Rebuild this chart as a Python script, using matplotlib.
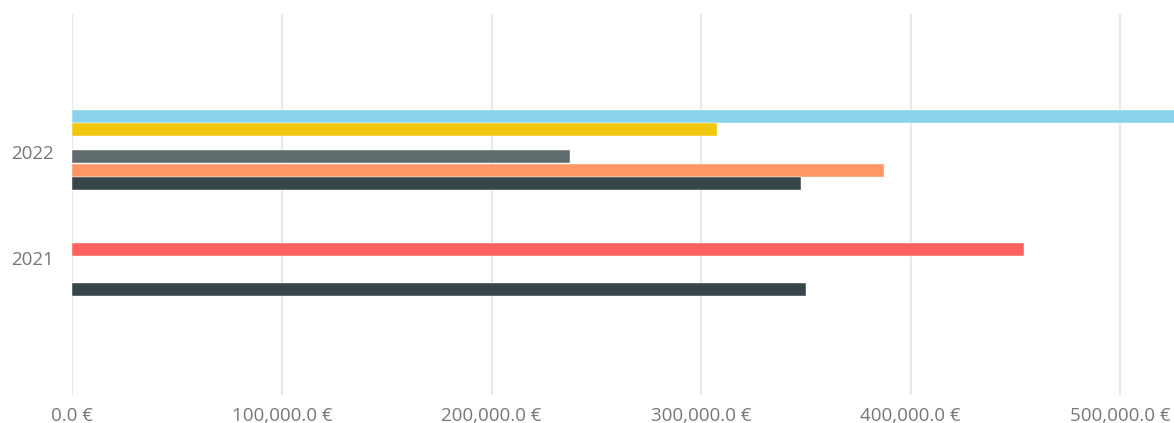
import numpy as np
import matplotlib
matplotlib.use("Agg")
import matplotlib.pyplot as plt
import matplotlib.transforms as mtransforms

plt.rcParams['font.family'] = ['Open Sans', 'DejaVu Sans']

years = ["2022", "2021"]
series_names = ["Series A", "Series B", "Series C", "Series D", "Series E", "Series F"]
series_colors = ["#8AD4EB", "#F2C80F", "#FD625E", "#5F6B6D", "#FE9666", "#374649"]
series_a = [560000, np.nan]
series_b = [307600, np.nan]
series_c = [np.nan, 454100]
series_d = [237600, np.nan]
series_e = [387400, np.nan]
series_f = [347500, 349900]
all_series = [series_a, series_b, series_c, series_d, series_e, series_f]
xticks = [0, 100000, 200000, 300000, 400000, 500000]
xtick_labels = ["0.0 €", "100,000.0 €", "200,000.0 €", "300,000.0 €", "400,000.0 €", "500,000.0 €"]

W, H = 1174, 423
fig = plt.figure(figsize=(W / 100, H / 100), dpi=100)
top_px, bot_px, left_px = 14, 395, 72.3
ax = fig.add_axes([left_px / W, (H - bot_px) / H, (W - left_px) / W, (bot_px - top_px) / H])

ypos = np.array([1.0, 0.0])
n = len(all_series)
w = 0.1264
for i, (vals, col) in enumerate(zip(all_series, series_colors)):
    offs = (i - (n - 1) / 2) * w
    ax.barh(ypos - offs, vals, height=w * 0.98, color=col, zorder=3,
            edgecolor='white', linewidth=0.3)

ax.set_xlim(0, 525600)
ax.set_ylim(-1.311, 2.283)
ax.set_xticks(xticks)
ax.set_xticklabels(xtick_labels)
ax.set_yticks(ypos)
ax.set_yticklabels(years)
ax.grid(axis='x', color='#e8e8e8', linewidth=1.6, zorder=0)
ax.grid(axis='y', visible=False)
for s in ax.spines.values():
    s.set_visible(False)
ax.tick_params(axis='both', length=0, colors='#777777', labelsize=13.5)
ax.tick_params(axis='x', pad=8.5)
ax.tick_params(axis='y', pad=13.5)

shift = mtransforms.ScaledTranslation(0, -2 / 100, fig.dpi_scale_trans)
for lbl in ax.get_yticklabels():
    lbl.set_transform(lbl.get_transform() + shift)

fig.savefig("out.png", dpi=100)
